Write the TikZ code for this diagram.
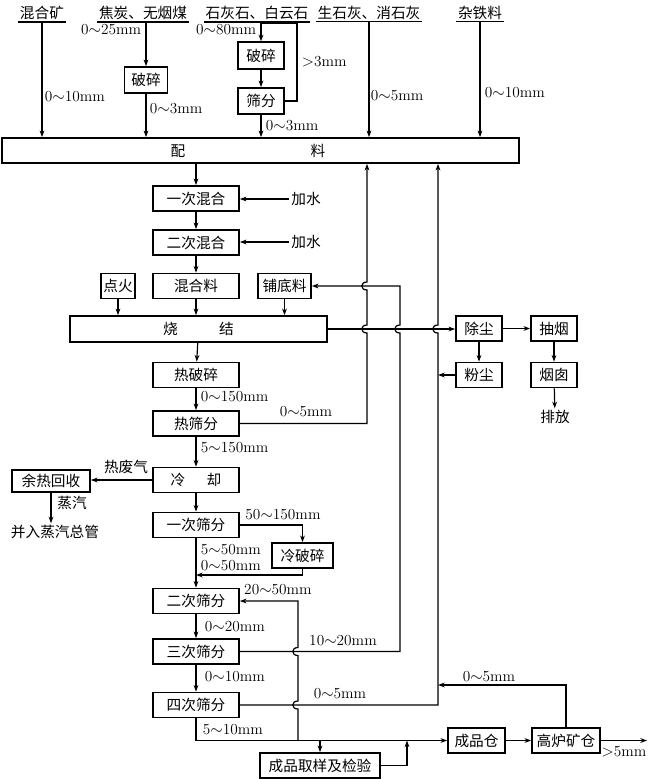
\documentclass[tikz,border=0pt]{standalone}
\usepackage{fontspec}
\newfontfamily\cjk{Noto Sans CJK SC}
\usetikzlibrary{arrows.meta}

\begin{document}
\begin{tikzpicture}[x=0.75pt,y=-0.75pt,line width=0.9pt,
  >={Stealth[length=5pt,width=3.6pt]},
  box/.style={draw,line width=1.3pt,font={\fontsize{11}{13}\cjk},minimum height=18.75pt,inner sep=0pt},
  txt/.style={font={\fontsize{11}{13}\cjk},inner sep=1pt},
  lbl/.style={font={\fontsize{11.5}{13}\selectfont},inner xsep=1pt,inner ysep=0.3pt},
  hop/.style={to path={.. controls +(-7,0) and +(-7,0) .. (\tikztotarget)}}]
  \useasboundingbox (0,0) rectangle (648,779);

  % raw materials
  \node[txt] (hk) at (42,13) {混合矿};
  \node[txt] (jt) at (143,13) {焦炭、无烟煤};
  \node[txt] (sh) at (257,13) {石灰石、白云石};
  \node[txt] (sx) at (369,13) {生石灰、消石灰};
  \node[txt] (zt) at (480,13) {杂铁料};
  \foreach \n in {hk,jt,sh,sx,zt}
    \draw[line width=1.2pt] (\n.south west) -- (\n.south east);

  \node[box,minimum width=32.25pt,minimum height=19.5pt] (po1) at (146,80) {破碎};
  \node[box,minimum width=34.5pt,minimum height=20pt] (po2) at (261,55.5) {破碎};
  \node[box,minimum width=34.5pt,minimum height=19.5pt] (sf) at (261,101) {筛分};
  \node[box,minimum width=387.75pt] (pl) at (260.5,150.5) {};
  \node[txt] (plt) at (248,150.5) {配\hspace{94pt}料};

  % main column
  \foreach \n/\t/\y in {mx1/一次混合/198.5,mx2/二次混合/242.5,hhl/混合料/286,
      rp/热破碎/375,rs/热筛分/423.5,lq/冷\hspace{16pt}却/480,s1/一次筛分/525,
      s2/二次筛分/601,s3/三次筛分/651.5,s4/四次筛分/705}
    \node[box,minimum width=64.5pt] (\n) at (196,\y) {\t};

  \node[box,minimum width=25.5pt] (dh) at (118,286) {点火};
  \node[box,minimum width=39.75pt] (pd) at (284.5,286) {铺底料};
  \node[box,minimum width=192.75pt,minimum height=19.5pt] (sj) at (198.5,329) {烧\hspace{31pt}结};
  \node[txt] (js1) at (306,199) {加水};
  \node[txt] (js2) at (306,242) {加水};

  % dust and fume
  \node[box,minimum width=34.5pt] (cc) at (479,328.5) {除尘};
  \node[box,minimum width=34.5pt] (cy) at (554,328.5) {抽烟};
  \node[box,minimum width=34.5pt] (fc) at (479,375) {粉尘};
  \node[box,minimum width=34.5pt] (yc) at (554,375) {烟囱};
  \node[txt] (pf) at (555,417) {排放};

  \node[box,minimum width=58.5pt,minimum height=16.5pt] (yr) at (51,481) {余热回收};
  \node[txt] (rfq) at (126,467) {热废气};
  \node[txt] (zq) at (72,503) {蒸汽};
  \node[txt] (bq) at (55,532) {并入蒸汽总管};
  \node[box,minimum width=45.75pt] (lp) at (302.5,555.5) {冷破碎};

  % products
  \node[box,minimum width=90pt] (jy) at (320,765.5) {成品取样及检验};
  \node[box,minimum width=42.75pt] (cp) at (476.5,740.5) {成品仓};
  \node[box,minimum width=51pt] (gl) at (566,740.5) {高炉矿仓};

  % size labels
  \foreach \n/\x/\y/\t in {d1/43/97/0$\sim$10mm,d3/148/109/0$\sim$3mm,d5/300/62/$>$3mm,
      d6/264/126/0$\sim$3mm,d7/369/96/0$\sim$5mm,d8/483/93/0$\sim$10mm,
      d9/199/397/0$\sim$150mm,d11/199/448/5$\sim$150mm,d13/199/550/5$\sim$50mm,
      d14/199/566/0$\sim$50mm,d16/203/627/0$\sim$20mm,d18/203/677/0$\sim$10mm,
      d20/201/730/5$\sim$10mm}
    \node[lbl,anchor=west] (\n) at (\x,\y) {\t};
  \node[lbl,anchor=east] (d2) at (143,30) {0$\sim$25mm};
  \node[lbl,anchor=east] (d4) at (258,30) {0$\sim$80mm};
  \node[lbl] (d10) at (306,412) {0$\sim$5mm};
  \node[lbl] (d12) at (283,515) {50$\sim$150mm};
  \node[lbl] (d15) at (278,590) {20$\sim$50mm};
  \node[lbl] (d17) at (343,641) {10$\sim$20mm};
  \node[lbl] (d19) at (340,694) {0$\sim$5mm};
  \node[lbl] (d21) at (489,677) {0$\sim$5mm};
  \node[lbl] (d22) at (624,752) {$>$5mm};

  % corners of the return lines
  \coordinate (k1) at (297,23);
  \coordinate (a1) at (367,423.5);
  \coordinate (b1) at (400,651.5);
  \coordinate (b2) at (400,286);
  \coordinate (c1) at (438,705);
  \coordinate (d0) at (298,601);
  \coordinate (g1) at (563,685);
  \coordinate (e2) at (196,575);
  \coordinate (q1) at (407,765.5);
  \coordinate (out) at (647,740.5);

  % feed to proportioning
  \draw[->] (hk.south) -- (hk.south |- pl.north);
  \draw[->] (po1.north |- jt.south) -- (po1);
  \draw[->] (po1) -- (po1 |- pl.north);
  \draw[->] (po2.north |- sh.south) -- (po2);
  \draw[->] (po2) -- (sf);
  \draw[->] (sf) -- (sf |- pl.north);
  \draw (sf.east) -| (k1) -- (k1 -| po2.north);
  \draw[->] (sx.south) -- (sx.south |- pl.north);
  \draw[->] (zt.south) -- (zt.south |- pl.north);

  % mixing and sintering
  \draw[->] (pl.south -| mx1) -- (mx1);
  \draw[->] (js1.west) -- (js1.west -| mx1.east);
  \draw[->] (js2.west) -- (js2.west -| mx2.east);
  \draw[->] (mx1) -- (mx2);
  \draw[->] (mx2) -- (hhl);
  \foreach \n in {dh,hhl,pd}
    \draw[->] (\n) -- (\n |- sj.north);
  \draw[->] (sj) -- (rp);
  \draw[->] (rp) -- (rs);
  \draw[->] (rs) -- (lq);
  \draw[->] (lq) -- (s1);
  \draw[->] (s1) -- (s2);
  \draw[->] (s2) -- (s3);
  \draw[->] (s3) -- (s4);

  % waste gas
  \draw[->] (sj.east) -- (sj.east -| cc.west);
  \draw[->] (cc) -- (cy);
  \draw[->] (cy) -- (yc);
  \draw[->] (yc) -- (pf);
  \draw[->] (cc) -- (fc);
  \draw[->] (fc.west) -- (fc.west -| c1);
  \draw[->] (lq.west) -- (lq.west -| yr.east);
  \draw[->] (yr.south) -- (yr.south |- bq.north);

  % return fines
  \draw[->] (rs.east) -- (a1) -- ([yshift=-3pt]a1 |- sj.east) to[hop] ([yshift=3pt]a1 |- sj.east)
    -- ([yshift=-3pt]a1 |- pd.east) to[hop] ([yshift=3pt]a1 |- pd.east) -- (a1 |- pl.south);
  \draw[->] (s3.east) -- (b1) -- ([yshift=-3pt]b1 |- sj.east) to[hop] ([yshift=3pt]b1 |- sj.east)
    -- (b2) -- (pd.east);
  \draw[->] (s4.east) -- (c1) -- ([yshift=-3pt]c1 |- sj.east) to[hop] ([yshift=3pt]c1 |- sj.east)
    -- (c1 |- pl.south);
  \draw[->] (gl.north) -- (gl.north |- g1) -- (g1 -| c1);

  % cold screening
  \draw[->] (s1.east) -| (lp.north);
  \draw[->] (lp.south) |- (e2);
  \draw[<-] (s2.east) -- (d0) -- ([yshift=3pt]d0 |- s3.east) to[hop] ([yshift=-3pt]d0 |- s3.east)
    -- ([yshift=3pt]d0 |- s4.east) to[hop] ([yshift=-3pt]d0 |- s4.east) -- (d0 |- cp.west);

  % product
  \draw[->] (s4.south) |- (cp.west);
  \draw[->] (jy.north |- cp.west) -- (jy.north);
  \draw[->] (jy.east) -- (q1) -- (q1 |- cp.west);
  \draw[->] (cp) -- (gl);
  \draw[->] (gl.east) -- (out);
\end{tikzpicture}
\end{document}
